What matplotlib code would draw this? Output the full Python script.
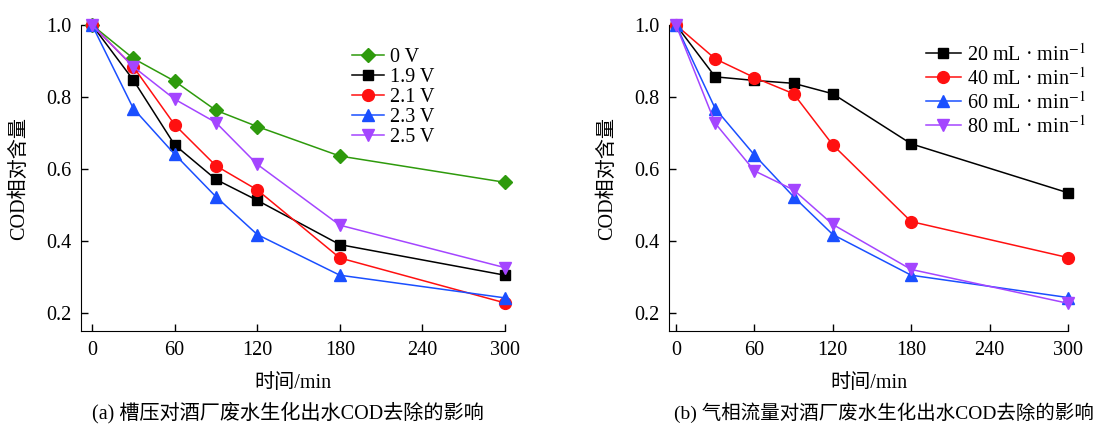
# -*- coding: utf-8 -*-
"""槽压与气相流量对COD去除的影响。"""

import matplotlib
matplotlib.use('Agg')
import matplotlib.pyplot as plt

plt.rcParams['font.family'] = ['Liberation Serif', 'Noto Sans CJK SC']
plt.rcParams['mathtext.fontset'] = 'stix'

tiempo = [0, 30, 60, 90, 120, 180, 300]

# (a) 槽压
etiquetas_a = ['0 V', '1.9 V', '2.1 V', '2.3 V', '2.5 V']
v_0 = [1.0, 0.907, 0.844, 0.763, 0.718, 0.636, 0.563]
v_19 = [1.0, 0.847, 0.667, 0.571, 0.513, 0.390, 0.305]
v_21 = [1.0, 0.884, 0.723, 0.609, 0.542, 0.353, 0.228]
v_23 = [1.0, 0.768, 0.641, 0.523, 0.418, 0.305, 0.242]
v_25 = [1.0, 0.884, 0.794, 0.729, 0.613, 0.444, 0.326]

# (b) 气相流量
etiquetas_b = ['20 mL · min$^{-1}$', '40 mL · min$^{-1}$',
               '60 mL · min$^{-1}$', '80 mL · min$^{-1}$']
q_20 = [1.0, 0.856, 0.846, 0.838, 0.809, 0.670, 0.534]
q_40 = [1.0, 0.906, 0.854, 0.809, 0.667, 0.454, 0.354]
q_60 = [1.0, 0.768, 0.639, 0.523, 0.418, 0.305, 0.243]
q_80 = [1.0, 0.727, 0.595, 0.542, 0.446, 0.321, 0.227]

VERDE = '#2e9a0c'
NEGRO = '#000000'
ROJO = '#ff1010'
AZUL = '#1a4fff'
MORADO = '#a445ff'

estilos_a = [(VERDE, 'D', 7), (NEGRO, 's', 7.5), (ROJO, 'o', 8.5),
             (AZUL, '^', 9), (MORADO, 'v', 9)]
estilos_b = estilos_a[1:]

FS = 14.5


def dibuja_panel(ax, series, etiquetas, estilos, xmin, legend_loc, hl, sp):
    for y, et, (c, m, ms) in zip(series, etiquetas, estilos):
        ax.plot(tiempo, y, color=c, marker=m, markersize=ms, lw=1.1,
                label=et, clip_on=False, zorder=3)
    ax.set_xlim(xmin, 300)
    ax.set_ylim(0.15, 1.0)
    ax.set_xticks([0, 60, 120, 180, 240, 300])
    ax.set_yticks([0.2, 0.4, 0.6, 0.8, 1.0])
    ax.set_yticklabels(['0.2', '0.4', '0.6', '0.8', '1.0'])
    ax.spines['top'].set_visible(False)
    ax.spines['right'].set_visible(False)
    ax.tick_params(direction='in', length=5, width=1, labelsize=FS, pad=7)
    ax.set_xlabel('时间/min', fontsize=FS, labelpad=10)
    ax.set_ylabel('COD相对含量', fontsize=FS, labelpad=12)
    ax.legend(loc='upper left', bbox_to_anchor=legend_loc, frameon=False,
              fontsize=FS, handlelength=hl, handletextpad=0.3,
              labelspacing=sp, borderaxespad=0.0, borderpad=0.0)


fig = plt.figure(figsize=(11.07, 4.28), dpi=100)
ax1 = fig.add_axes([0.0732, 0.2266, 0.383, 0.715])
ax2 = fig.add_axes([0.6043, 0.2266, 0.3604, 0.715])

dibuja_panel(ax1, [v_0, v_19, v_21, v_23, v_25], etiquetas_a, estilos_a, -8,
             (0.64, 0.925), 1.55, 0.05)
dibuja_panel(ax2, [q_20, q_40, q_60, q_80], etiquetas_b, estilos_b, -5.4,
             (0.645, 0.94), 1.7, 0.1)

fig.text(0.083, 0.035, '(a) 槽压对酒厂废水生化出水COD去除的影响', fontsize=FS,
         ha='left', va='center')
fig.text(0.609, 0.035, '(b) 气相流量对酒厂废水生化出水COD去除的影响', fontsize=14,
         ha='left', va='center')

fig.savefig('out.png', dpi=100)
